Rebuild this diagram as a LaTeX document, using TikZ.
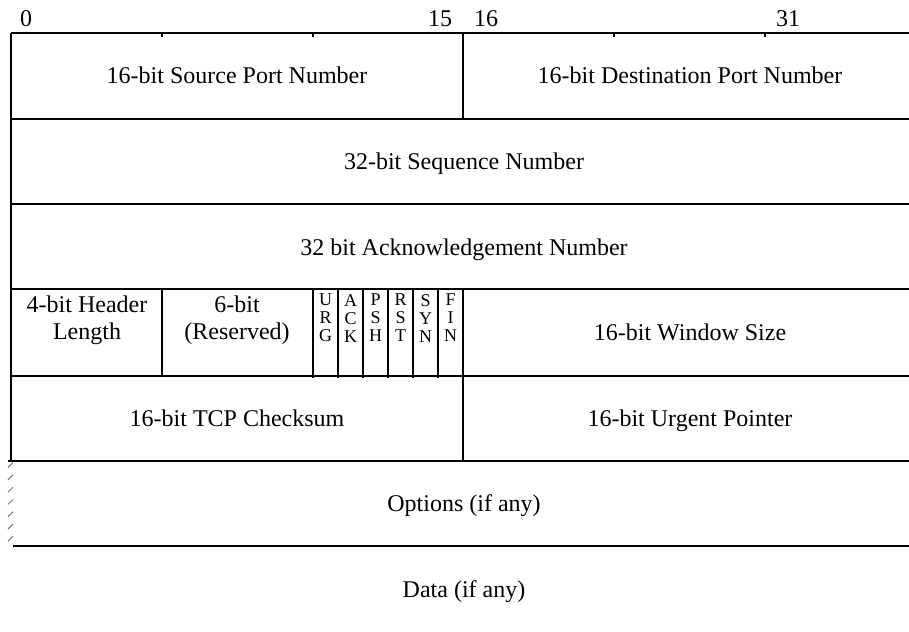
\documentclass[tikz,border=0pt]{standalone}
\usepackage{fontspec}
\setmainfont{Liberation Serif}
\begin{document}
\begin{tikzpicture}[x=1pt,y=-1pt,
  field/.style={font=\fontsize{24}{27}\selectfont, align=center, inner sep=0pt, anchor=base},
  bitno/.style={font=\fontsize{24}{27}\selectfont, inner sep=0pt, anchor=base},
  flagcell/.style={font=\fontsize{18}{18}\selectfont, align=center, inner sep=0pt, anchor=north},
  rule/.style={line width=1.1pt},
  heavy/.style={line width=2.2pt},
  hatch/.style={line width=0.8pt, black!60}]
\useasboundingbox (0,0) rectangle (909,631);

% bit numbers above the header
\node[bitno] (b0)  at (26,27)  {0};
\node[bitno] (b15) at (440,27) {15};
\node[bitno] (b16) at (486,27) {16};
\node[bitno] (b31) at (788,27) {31};

% horizontal rules of the 32-bit rows
\foreach \y in {33,119,204,289,376}
  \draw[rule] (11,\y) -- (909,\y);
\draw[heavy] (8,461) -- (909,461);
\draw[heavy] (13,546) -- (909,546);

% small tick marks on the top rule
\foreach \x in {162,313,614,765}
  \draw[rule] (\x,33) -- (\x,37);

% vertical dividers
\draw[rule] (11,33) -- (11,461);
\draw[rule] (463,33) -- (463,119);
\draw[rule] (463,289) -- (463,461);
\draw[rule] (162,289) -- (162,376);
\foreach \x in {313,338,363,388,413,438}
  \draw[rule] (\x,289) -- (\x,378);

% broken left edge of the options field
\foreach \y in {465,477.3,489.6,501.9,514.2,526.5,538.8}
  \draw[hatch] (8,\y+2.5) -- (13,\y-2.5);

% field labels
\node[field] (srcport) at (237,84)  {16-bit Source Port Number};
\node[field] (dstport) at (690,84)  {16-bit Destination Port Number};
\node[field] (seqno)   at (464,170) {32-bit Sequence Number};
\node[field] (ackno)   at (464,255) {32 bit Acknowledgement Number};
\node[field, anchor=north] (hlen) at (87,295.5)  {4-bit Header\\Length};
\node[field, anchor=north] (resv) at (237,295.5) {6-bit\\(Reserved)};
\node[flagcell] (urg) at (325.5,294) {U\\R\\G};
\node[flagcell] (ack) at (350.5,294) {A\\C\\K};
\node[flagcell] (psh) at (375.5,294) {P\\S\\H};
\node[flagcell] (rst) at (400.5,294) {R\\S\\T};
\node[flagcell] (syn) at (425.5,294) {S\\Y\\N};
\node[flagcell] (fin) at (450.5,294) {F\\I\\N};
\node[field] (window)   at (690,340) {16-bit Window Size};
\node[field] (checksum) at (237,426) {16-bit TCP Checksum};
\node[field] (urgent)   at (690,426) {16-bit Urgent Pointer};
\node[field] (options)  at (464,511) {Options (if any)};
\node[field] (data)     at (464,597) {Data (if any)};
\end{tikzpicture}
\end{document}
